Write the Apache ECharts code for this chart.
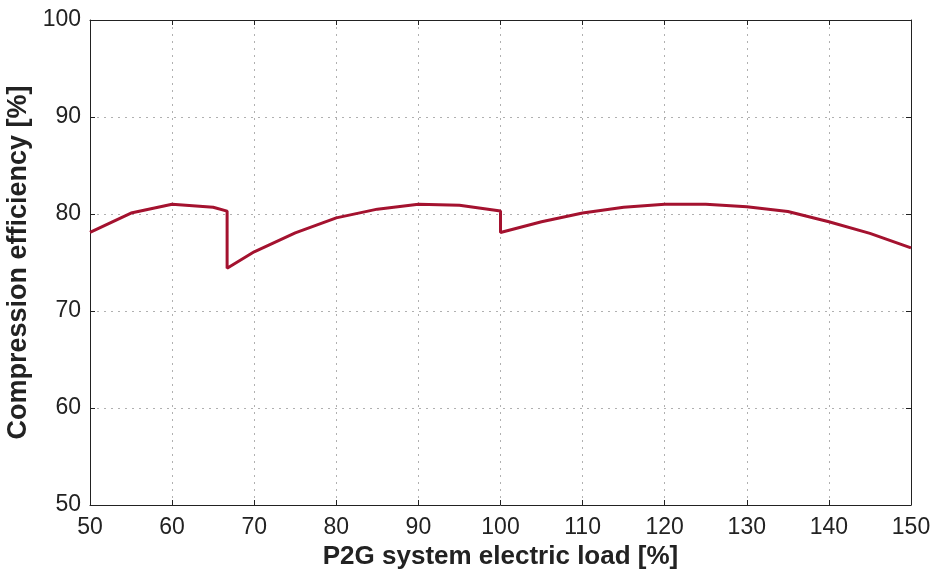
<!DOCTYPE html>
<html>
<head>
<meta charset="utf-8">
<script src="https://cdn.jsdelivr.net/npm/echarts@6/dist/echarts.min.js"></script>
<style>
  html, body { margin: 0; padding: 0; background: #fff; }
  #chart { width: 935px; height: 582px; }
</style>
</head>
<body>
<div id="chart"></div>
<script>
  // load [%] and compression efficiency [%]
  var load = [50, 55, 60, 65, 66.7, 66.7, 70, 75, 80, 85, 90, 95, 100, 100, 105, 110, 115, 120, 125, 130, 135, 140, 145, 150];
  var efficiency = [78.1, 80.1, 81.0, 80.7, 80.3, 74.4, 76.1, 78.05, 79.6, 80.5, 81.0, 80.9, 80.3, 78.1, 79.2, 80.1, 80.7, 81.0, 81.0, 80.75, 80.25, 79.2, 78.0, 76.5];

  var pts = [];
  for (var i = 0; i < load.length; i++) {
    pts.push([load[i], efficiency[i]]);
  }

  var font = 'Liberation Sans, Arial, sans-serif';
  var gridLine = { show: true, lineStyle: { color: '#b0b0b0', type: [2, 5], width: 1 } };
  var axisLine = { show: true, onZero: false, lineStyle: { color: '#222', width: 1 } };
  var tick = { show: true, inside: true, length: 5, lineStyle: { color: '#222' } };

  var chart = echarts.init(document.getElementById('chart'));
  chart.setOption({
    animation: false,
    grid: { left: 90, right: 24, top: 20, bottom: 77, outerBoundsMode: 'none', containLabel: false },
    xAxis: [{
      type: 'value',
      min: 50, max: 150, interval: 10,
      name: 'P2G system electric load [%]',
      nameLocation: 'middle',
      nameGap: 31,
      nameTextStyle: { fontFamily: font, fontSize: 26, fontWeight: 'bold', color: '#222' },
      axisLine: axisLine,
      axisTick: tick,
      axisLabel: { fontFamily: font, fontSize: 23, color: '#222', margin: 11 },
      splitLine: gridLine
    }, {
      type: 'value', position: 'top',
      min: 50, max: 150, interval: 10,
      axisLine: axisLine,
      axisTick: tick,
      axisLabel: { show: false },
      splitLine: { show: false }
    }],
    yAxis: [{
      type: 'value',
      min: 50, max: 100, interval: 10,
      name: 'Compression efficiency [%]',
      nameLocation: 'middle',
      nameGap: 54,
      nameTextStyle: { fontFamily: font, fontSize: 27, fontWeight: 'bold', color: '#222' },
      axisLine: axisLine,
      axisTick: tick,
      axisLabel: { fontFamily: font, fontSize: 23, color: '#222', margin: 9 },
      splitLine: gridLine
    }, {
      type: 'value', position: 'right',
      min: 50, max: 100, interval: 10,
      axisLine: axisLine,
      axisTick: tick,
      axisLabel: { show: false },
      splitLine: { show: false }
    }],
    series: [{
      type: 'line',
      data: pts,
      showSymbol: false,
      lineStyle: { color: '#A4122F', width: 3 },
      itemStyle: { color: '#A4122F' }
    }]
  });
</script>
</body>
</html>
